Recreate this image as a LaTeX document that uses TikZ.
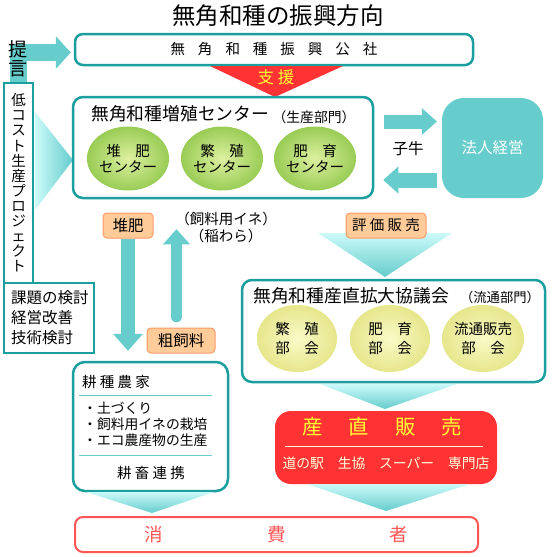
\documentclass[tikz,border=0pt]{standalone}
\usepackage{fontspec}
\setmainfont{Noto Sans CJK JP}
\usetikzlibrary{arrows.meta,shapes.geometric}
\definecolor{boxteal}{HTML}{1A9E9E}
\definecolor{arrowcyan}{HTML}{66CCCC}
\definecolor{funneltop}{HTML}{CCFAFA}
\definecolor{tagfill}{HTML}{FFCC99}
\definecolor{tagline}{HTML}{FF9966}
\definecolor{salered}{HTML}{FF3333}
\definecolor{saleyellow}{HTML}{FFFF33}
\definecolor{paleyellow}{HTML}{FFFFDD}
\definecolor{consred}{HTML}{FF5555}
\definecolor{greenin}{HTML}{DDF0A0}
\definecolor{greenout}{HTML}{99CC55}
\definecolor{yellowin}{HTML}{FAFAC8}
\definecolor{yellowout}{HTML}{E6E68C}
\tikzset{
  fs/.style 2 args={font=\fontsize{#1}{#2}\selectfont},
  tealbox/.style={draw=boxteal, line width=2.5pt, fill=white, rounded corners=10pt, inner sep=0pt},
  plainbox/.style={draw=boxteal, line width=2pt, fill=white, inner sep=0pt},
  tagbox/.style={draw=tagline, fill=tagfill, line width=1pt, rounded corners=4pt, minimum height=25pt, inner sep=0pt},
  greenegg/.style={ellipse, minimum width=80pt, minimum height=64pt, inner sep=0pt,
    inner color=greenin, outer color=greenout, align=center, fs={14.5}{16}},
  yellowegg/.style={ellipse, minimum width=80pt, minimum height=67pt, inner sep=0pt,
    inner color=yellowin, outer color=yellowout, align=center, fs={14.5}{19}},
  blockarrow/.style n args={3}{draw=arrowcyan, line width=#1,
    -{Triangle[width=#2, length=#3, line width=0pt]}},
  funnel/.style={top color=funneltop, bottom color=arrowcyan}
}
\begin{document}
\begin{tikzpicture}[x=1pt, y=-1pt]
  \useasboundingbox (0,0) rectangle (557,557);
  % Title
  \node[fs={23.5}{26}] (title) at (278,16) {無角和種の振興方向};
  % Kosha
  \node[tealbox, rounded corners=8pt, minimum width=398pt, minimum height=31pt, fs={14.5}{16}]
    (kosha) at (274,49.5) {無\hspace{13pt}角\hspace{13pt}和\hspace{13pt}種\hspace{13pt}振\hspace{13pt}興\hspace{13pt}公\hspace{13pt}社};
  % Support wedge
  \fill[salered] (210,66) -- (343,66) -- (275,97) -- cycle;
  \node[fs={16.5}{18}, text=saleyellow] (shien) at (276,77) {支 援};
  % Low cost project
  \shade[left color=funneltop, right color=arrowcyan] (35,112) -- (73,160) -- (35,210) -- cycle;
  \node[plainbox, minimum width=29pt, minimum height=200pt, align=center, fs={14.5}{15.1}]
    (lowcost) at (18.5,183) {低\\コ\\ス\\ト\\生\\産\\プ\\ロ\\ジ\\ェ\\ク\\ト};
  \draw[blockarrow={17pt}{33pt}{15pt}, shorten >=3pt] (lowcost.north) |- ([yshift=-3pt]kosha.west);
  \node[fs={19}{18.5}, align=center, inner sep=0pt] (teigen) at (18,59) {提\\言};
  \node[plainbox, minimum width=90pt, minimum height=70pt] (kadai) at (49,318) {};
  \node[fs={15.5}{20}, align=left, anchor=west, inner sep=0pt] (kadaitext) at (11,318)
    {課題の検討\\経営改善\\技術検討};
  % Breeding centre
  \node[tealbox, minimum width=300pt, minimum height=101pt] (zoshoku) at (223,147.5) {};
  \node[fs={17.8}{20}, anchor=west, inner sep=0pt] (zoshokutitle) at (91,114) {無角和種増殖センター};
  \node[fs={13.8}{15}] (seisan) at (314,117) {（生産部門）};
  \foreach \x/\txt [count=\i] in {128/{堆　肥\\センター}, 222/{繁　殖\\センター}, 315/{肥　育\\センター}}
    \node[greenegg] (zc\i) at (\x,158.5) {\txt};
  % Corporate farm
  \node[fill=arrowcyan, rounded corners=22pt, minimum width=101pt, minimum height=100pt,
    text=white, fs={15.5}{18}] (hojin) at (492.5,148) {法人経営};
  \node[fs={15.5}{18}] (koushi) at (408,149) {子牛};
  \draw[blockarrow={14pt}{27pt}{15pt}, shorten <=10pt, shorten >=5pt]
    ([yshift=26pt]zoshoku.east) -- ([yshift=26pt]zoshoku.east -| hojin.west);
  \draw[blockarrow={15pt}{27pt}{15pt}, shorten <=5pt, shorten >=9pt]
    ([yshift=-32pt]hojin.west) -- ([yshift=-32pt]hojin.west -| zoshoku.east);
  % Farmers
  \node[tealbox, rounded corners=12pt, minimum width=155pt, minimum height=129pt] (farm) at (150.5,426.5) {};
  \node[fs={14.5}{16}, anchor=west, inner sep=0pt] (farmtitle) at (82,382) {耕 種 農 家};
  \draw[arrowcyan, line width=1pt] (79,395) -- (212,395);
  \node[fs={13.8}{16}, anchor=west, align=left, inner sep=0pt] (farmlist) at (83,424)
    {・土づくり\\・飼料用イネの栽培\\・エコ農産物の生産};
  \draw[arrowcyan, line width=1pt] (79,455) -- (212,455);
  \node[fs={14.5}{16}] (renkei) at (151,473) {耕 畜 連 携};
  \shade[funnel] (86,492) -- (214,492) -- (152,513) -- cycle;
  % Compost and roughage
  \node[tagbox, minimum width=50pt, fs={15.5}{18}] (compost) at (128,225.5) {堆肥};
  \node[tagbox, minimum width=68pt, fs={15.5}{18}] (roughage) at (181,340.5) {粗飼料};
  \node[fs={14.5}{17}, align=center] (feedrice) at (226,227) {（飼料用イネ）\\（稲わら）};
  \draw[blockarrow={14pt}{30pt}{17pt}, shorten >=10pt] (compost.south) -- (compost.south |- farm.north);
  \draw[blockarrow={11.5pt}{27pt}{15pt}, line cap=round, shorten <=11pt, shorten >=30pt]
    ([xshift=-4.5pt]roughage.north) -- ([xshift=-4.5pt]roughage.north |- zoshoku.south);
  % Council
  \shade[funnel] (318,233) -- (452,233) -- (385,277) -- cycle;
  \node[tagbox, minimum width=80pt, fs={14.5}{17}] (hyoka) at (386,225.5) {評 価 販 売};
  \node[tealbox, minimum width=303pt, minimum height=102pt] (kyogi) at (393.5,331) {};
  \node[fs={17.8}{20}, anchor=west, inner sep=0pt] (kyogititle) at (253,295.5) {無角和種産直拡大協議会};
  \node[fs={13.3}{15}] (ryutsu) at (500,297) {（流通部門）};
  \foreach \x/\txt [count=\i] in {297/{繁　殖\\部　会}, 390/{肥　育\\部　会}, 483/{流通販売\\部　会}}
    \node[yellowegg] (kb\i) at (\x,338.5) {\txt};
  \shade[funnel] (320,384) -- (457,384) -- (385,409) -- cycle;
  % Direct sales
  \node[fill=salered, rounded corners=16pt, minimum width=222pt, minimum height=73pt] (sanchoku) at (386,447.5) {};
  \node[fs={20.5}{22}, text=saleyellow] (sanchokutitle) at (382.5,427)
    {産\hspace{26pt}直\hspace{26pt}販\hspace{26pt}売};
  \draw[paleyellow, line width=0.8pt] (285,446) -- (483,446);
  \node[fs={13.8}{16}, text=paleyellow] (shops) at (386,463) {道の駅　生協　スーパー　専門店};
  \shade[funnel] (307,484) -- (470,484) -- (386,511) -- cycle;
  % Consumers
  \node[draw=consred, line width=2pt, fill=white, rounded corners=8pt, minimum width=403pt,
    minimum height=35pt, fs={18.5}{20}, text=consred] (consumer) at (276.5,534.5)
    {消\hspace{104pt}費\hspace{104pt}者};
\end{tikzpicture}
\end{document}
